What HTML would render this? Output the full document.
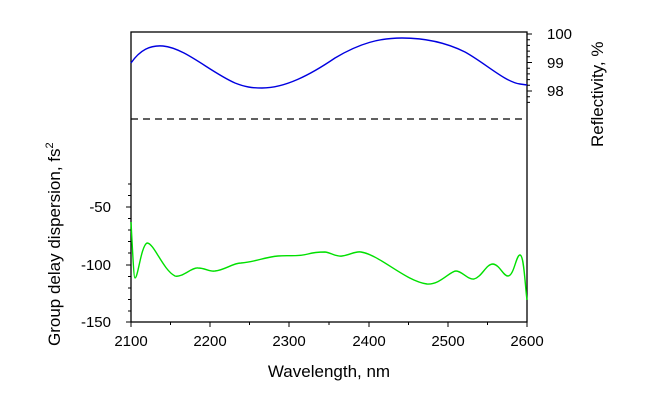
<!DOCTYPE html><html><head><style>body{margin:0;background:#fff}svg{display:block;font-family:"Liberation Sans",sans-serif}</style></head><body>
<svg width="650" height="404" viewBox="0 0 650 404">
<rect x="131" y="32" width="396" height="290" fill="none" stroke="#000" stroke-width="1.3"/>
<g stroke="#000" stroke-width="1">
<line x1="131" y1="322" x2="131" y2="327"/><line x1="210" y1="322" x2="210" y2="327"/><line x1="289" y1="322" x2="289" y2="327"/><line x1="369" y1="322" x2="369" y2="327"/><line x1="448" y1="322" x2="448" y2="327"/><line x1="527" y1="322" x2="527" y2="327"/>
<line x1="170.5" y1="322" x2="170.5" y2="325"/><line x1="249.5" y1="322" x2="249.5" y2="325"/><line x1="329" y1="322" x2="329" y2="325"/><line x1="408.5" y1="322" x2="408.5" y2="325"/><line x1="487.5" y1="322" x2="487.5" y2="325"/>
<line x1="126" y1="207" x2="131" y2="207"/><line x1="126" y1="265" x2="131" y2="265"/><line x1="126" y1="322" x2="131" y2="322"/>
<path d="M128 195.5H131M128 218.5H131M128 230H131M128 241.5H131M128 253H131M128 276.5H131M128 288H131M128 299.5H131M128 311H131M128 184H131"/>
<line x1="527" y1="34" x2="532" y2="34"/><line x1="527" y1="62.5" x2="532" y2="62.5"/><line x1="527" y1="91" x2="532" y2="91"/>
<path d="M527 39.7H530M527 45.4H530M527 51.1H530M527 56.8H530M527 68.2H530M527 73.9H530M527 79.6H530M527 85.3H530M527 96.7H530M527 102.4H530"/>
</g>
<line x1="131" y1="119" x2="527" y2="119" stroke="#000" stroke-width="1.3" stroke-dasharray="7,5"/>
<path d="M131 63 C140 50,150 45,163 46 C185 48,210 72,235 83 C245 87,252 88,262 88 C285 88,310 75,335 58 C360 43,380 38,402 38 C425 38,445 42,465 52 C485 63,505 82,520 84 L527 85" fill="none" stroke="#0000e0" stroke-width="1.4"/>
<path d="M131 222 C133 260,134 278,135 278 C138 278,141 246,147 243 C154 243,163 270,175 276 C182 278,192 267,198 268 C205 268,210 272,215 271 C225 270,233 263,241 263 C255 262,265 257,278 256 C290 255,297 257,308 254 C315 252,320 252,325 252 C332 253,336 257,342 256 C350 255,355 251,361 252 C380 255,405 281,427 284 C440 285,450 271,456 271 C462 271,468 280,474 279 C482 277,486 264,493 264 C500 265,503 276,508 276 C514 276,516 255,520 255 C524 255,525 285,527 300" fill="none" stroke="#00e000" stroke-width="1.4"/>
<g font-size="15" fill="#000">
<g text-anchor="middle"><text x="131" y="346">2100</text><text x="210" y="346">2200</text><text x="289" y="346">2300</text><text x="369" y="346">2400</text><text x="448" y="346">2500</text><text x="527" y="346">2600</text>
<text x="329" y="377" font-size="17">Wavelength, nm</text></g>
<g text-anchor="end"><text x="111" y="212">-50</text><text x="111" y="270">-100</text><text x="111" y="327">-150</text></g>
<text x="547" y="39">100</text><text x="547" y="68">99</text><text x="547" y="96">98</text>
<text transform="translate(60 346) rotate(-90)" font-size="17">Group delay dispersion, fs<tspan font-size="11" dy="-7">2</tspan></text>
<text transform="translate(603 147) rotate(-90)" font-size="17">Reflectivity, %</text>
</g>
</svg></body></html>
